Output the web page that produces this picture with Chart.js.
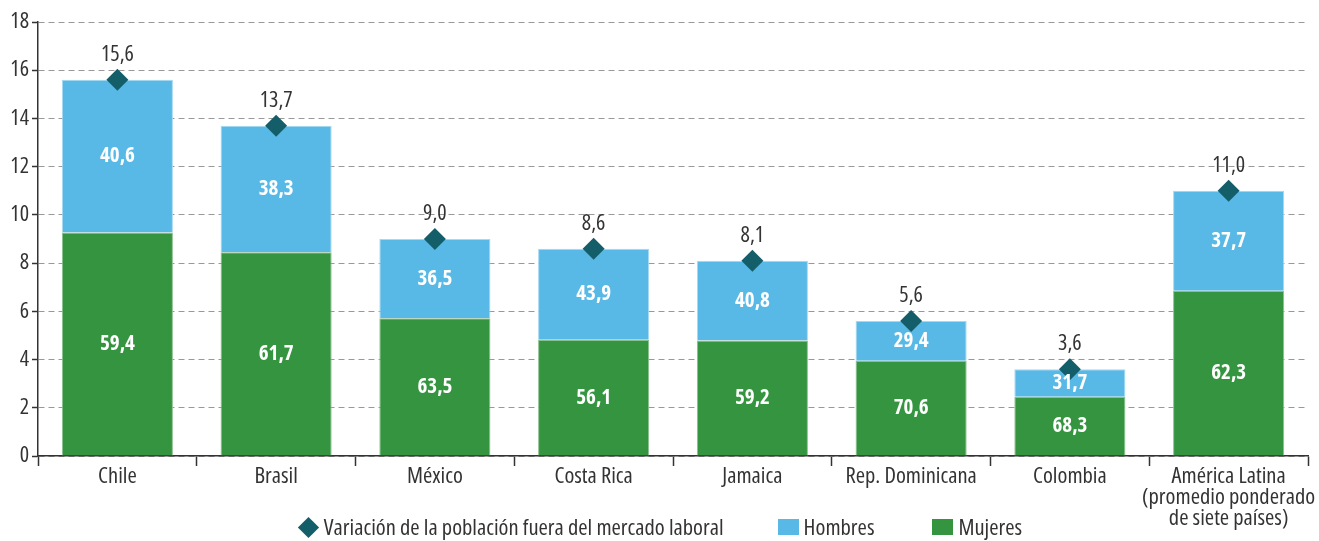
<!DOCTYPE html>
<html>
<head>
<meta charset="utf-8">
<script src="https://cdn.jsdelivr.net/npm/chart.js@4.4.0/dist/chart.umd.min.js"></script>
<style>
  html, body { margin: 0; padding: 0; background: #fff; }
  #wrap { width: 1319px; height: 541px; position: relative; overflow: hidden; }
  #leyenda {
    position: absolute; left: 0; right: 0; top: 515px; height: 24px;
    display: flex; justify-content: center; align-items: center;
    font: condensed 22.5px/24px 'Open Sans', sans-serif; color: #333;
  }
  #leyenda span { display: inline-flex; align-items: center; }
  #leyenda .rombo { width: 15px; height: 15px; background: #145E6A; transform: rotate(45deg); margin: 0 8px 0 4px; }
  #leyenda .caja { width: 21px; height: 16px; margin-right: 5px; }
</style>
</head>
<body>
<div id="wrap">
  <canvas id="fueraMercadoChart"></canvas>
  <div id="leyenda">
    <span><i class="rombo"></i>Variación de la población fuera del mercado laboral</span>
    <span style="margin-left:54px"><i class="caja" style="background:#59B9E6"></i>Hombres</span>
    <span style="margin-left:58px"><i class="caja" style="background:#34943F"></i>Mujeres</span>
  </div>
</div>
<script>
const categorias = ['Chile', 'Brasil', 'México', 'Costa Rica', 'Jamaica', 'Rep. Dominicana', 'Colombia',
    ['América Latina', '(promedio ponderado', 'de siete países)']];
const variacion  = [15.6, 13.7, 9.0, 8.6, 8.1, 5.6, 3.6, 11.0];
const pctMujeres = [59.4, 61.7, 63.5, 56.1, 59.2, 70.6, 68.3, 62.3];
const pctHombres = [40.6, 38.3, 36.5, 43.9, 40.8, 29.4, 31.7, 37.7];
const yTicks     = [0, 2, 4, 6, 8, 10, 12, 14, 16, 18];

// Open Sans ships a condensed face, picked through the width keyword
const FAMILIA = "'Open Sans', sans-serif";
const ANCHO = 'condensed';
const coma = v => v.toFixed(1).replace('.', ',');

// each segment is the share (%) of the country's total variation
const alturaMujeres = variacion.map((v, i) => v * pctMujeres[i] / 100);
const alturaHombres = variacion.map((v, i) => v * pctHombres[i] / 100);

const etiquetas = {
    id: 'etiquetas',
    afterDatasetsDraw(chart) {
        const ctx = chart.ctx;
        ctx.save();
        ctx.textAlign = 'center';
        ctx.textBaseline = 'middle';
        chart.data.datasets.forEach((ds, di) => {
            const meta = chart.getDatasetMeta(di);
            meta.data.forEach((el, i) => {
                if (ds.type === 'line') {
                    ctx.fillStyle = '#333';
                    ctx.font = ANCHO + ' 22px ' + FAMILIA;
                    ctx.fillText(coma(variacion[i]), el.x, el.y - 25);
                } else {
                    const pct = ds.label === 'Mujeres' ? pctMujeres[i] : pctHombres[i];
                    ctx.fillStyle = '#fff';
                    ctx.font = 'bold ' + ANCHO + ' 21px ' + FAMILIA;
                    ctx.fillText(coma(pct), el.x, (el.y + el.base) / 2);
                }
            });
        });
        ctx.restore();
    }
};

const ctx = document.getElementById('fueraMercadoChart').getContext('2d');
new Chart(ctx, {
    data: {
        labels: categorias,
        datasets: [
            {
                type: 'line',
                label: 'Variación de la población fuera del mercado laboral',
                data: variacion,
                stack: 'linea',
                showLine: false,
                pointStyle: 'rectRot',
                pointRadius: 11,
                pointHoverRadius: 11,
                backgroundColor: '#145E6A',
                borderColor: '#145E6A',
                borderWidth: 0
            },
            {
                type: 'bar',
                label: 'Mujeres',
                data: alturaMujeres,
                stack: 'barras',
                backgroundColor: '#34943F',
                borderColor: '#8cc08f',
                borderWidth: 1,
                barPercentage: 0.7,
                categoryPercentage: 1
            },
            {
                type: 'bar',
                label: 'Hombres',
                data: alturaHombres,
                stack: 'barras',
                backgroundColor: '#59B9E6',
                borderColor: '#a6d9f1',
                borderWidth: 1,
                barPercentage: 0.7,
                categoryPercentage: 1
            }
        ]
    },
    options: {
        responsive: true,
        maintainAspectRatio: false,
        animation: false,
        layout: { padding: { top: 22, right: 0, left: 0, bottom: 7 } },
        plugins: {
            tooltip: { enabled: false },
            legend: { display: false }
        },
        scales: {
            x: {
                stacked: true,
                offset: true,
                afterFit: s => { s.height = 78; },
                grid: {
                    offset: true,
                    drawOnChartArea: false,
                    drawTicks: true,
                    tickLength: 10,
                    tickColor: '#333',
                    tickWidth: 1.5
                },
                border: { color: '#333', width: 1.5 },
                ticks: {
                    color: '#333',
                    padding: 0,
                    font: { family: FAMILIA, weight: ANCHO, size: 22.5, lineHeight: 0.93 },
                    maxRotation: 0,
                    autoSkip: false
                }
            },
            y: {
                stacked: true,
                min: 0,
                max: 18,
                afterFit: s => { s.width = 38; },
                afterBuildTicks: axis => { axis.ticks = yTicks.map(v => ({ value: v })); },
                grid: {
                    color: '#999',
                    lineWidth: 1,
                    tickColor: '#333',
                    tickLength: 6,
                    tickWidth: 1.5
                },
                border: { color: '#333', width: 1.5, dash: [6, 4] },
                ticks: {
                    color: '#333',
                    padding: 3,
                    font: { family: FAMILIA, weight: ANCHO, size: 22 }
                }
            }
        }
    },
    plugins: [etiquetas]
});
</script>
</body>
</html>
